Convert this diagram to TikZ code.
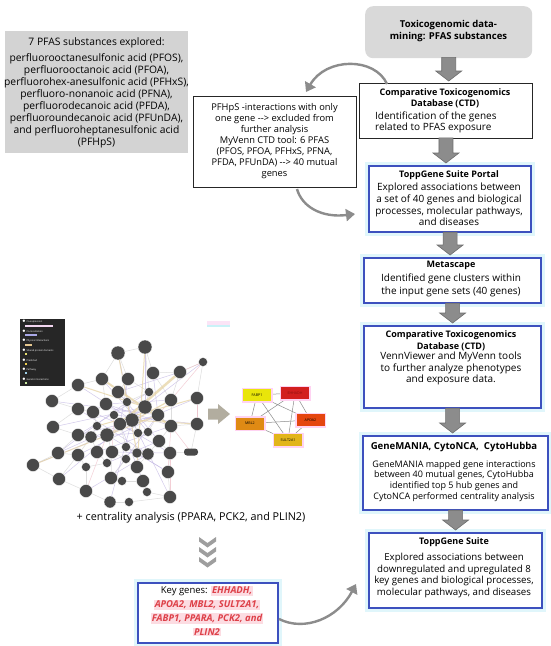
\documentclass[tikz,border=0pt]{standalone}
\usepackage{fontspec}
\setmainfont{Open Sans}
\usetikzlibrary{arrows.meta,calc}
\definecolor{boxgray}{HTML}{D3D3D3}
\definecolor{toxgray}{HTML}{D9D9D9}
\definecolor{bluebd}{HTML}{3D50BE}
\definecolor{glow}{HTML}{E0F6FB}
\definecolor{arrgray}{HTML}{8C8C8C}
\definecolor{arredge}{HTML}{6E6E6E}
\definecolor{nodegray}{HTML}{494949}
\definecolor{keyred}{HTML}{DD4048}
\definecolor{keypink}{HTML}{FCDCE2}
\definecolor{legdark}{HTML}{262626}
\definecolor{lav}{HTML}{C3B8E4}
\definecolor{beige}{HTML}{E6D3A4}
\definecolor{edgegray}{HTML}{D2D2D2}
\definecolor{edgepink}{HTML}{F0BEC8}
\definecolor{halo}{HTML}{FFD3F2}
\definecolor{netarrow}{HTML}{B2AD9F}
\definecolor{hubyellow}{HTML}{E9E50A}
\definecolor{hubred}{HTML}{D21F1F}
\definecolor{hubredtxt}{HTML}{8A1010}
\definecolor{huborangered}{HTML}{E5460F}
\definecolor{huborange}{HTML}{DF8A14}
\definecolor{hubgold}{HTML}{E2B51A}
\definecolor{artpink}{HTML}{FBE4F6}
\definecolor{artcyan}{HTML}{C9F2F7}
\newcommand\downblock[2]{%
  \filldraw[blockarrow] let \p1=(#1), \p2=(#2) in
  (\x1-7pt,\y1+1pt) -- (\x1+7pt,\y1+1pt) -- (\x1+7pt,\y2+12pt) -- (\x1+13pt,\y2+12pt)
  -- (\x1,\y2+2pt) -- (\x1-13pt,\y2+12pt) -- (\x1-7pt,\y2+12pt) -- cycle;}
\newcommand\keyhl[1]{{\setlength{\fboxsep}{1pt}\colorbox{keypink}{\textcolor{keyred}{\bfseries\itshape #1}}}}
\begin{document}
\begin{tikzpicture}[x=1pt,y=-1pt,
  graybox/.style={fill=boxgray, draw=none, inner sep=0pt, anchor=north west},
  blackbox/.style={draw=black!85, line width=0.9pt, fill=white, inner sep=0pt, anchor=north west},
  bluebox/.style={draw=bluebd, line width=2.2pt, fill=white, inner sep=0pt, anchor=north west,
     preaction={draw=glow, line width=8pt}},
  txt/.style={inner sep=0pt, align=center},
  ttl/.style={inner sep=0pt, align=center, font=\fontsize{9}{11.5}\selectfont\bfseries},
  body/.style={inner sep=0pt, align=center, font=\fontsize{10}{11.7}\selectfont},
  blockarrow/.style={fill=arrgray, draw=arredge, line width=0.6pt},
  curvearrow/.style={draw=arrgray, line width=2.4pt, -{Triangle[length=9pt,width=12pt]}},
  netnode/.style={circle, fill=nodegray, draw=white, line width=0.3pt, inner sep=0pt},
  netedge/.style={line width=0.5pt, opacity=0.75},
  hubnode/.style={rectangle, inner sep=0pt, minimum width=28, minimum height=12,
     font=\fontsize{3.6}{4}\selectfont, preaction={draw=halo, line width=3pt}},
  chev/.style={fill=black!38}
]
\useasboundingbox[fill=white] (0,0) rectangle (550,646);

% ---------- left gray box ----------
\node[graybox, minimum width=183, minimum height=122] (pfasbox) at (5,31) {};
\node[txt, font=\fontsize{10.3}{12}\selectfont] (pfastxt) at (96.5,93)
 {7 PFAS substances explored:\\[4pt]
  perfluorooctanesulfonic acid (PFOS),\\
  perfluorooctanoic acid (PFOA),\\
  perfluorohex-anesulfonic acid (PFHxS),\\
  perfluoro-nonanoic acid (PFNA),\\
  perfluorodecanoic acid (PFDA),\\
  perfluoroundecanoic acid (PFUnDA),\\
  and perfluoroheptanesulfonic acid\\
  (PFHpS)};

% ---------- right column ----------
\node[graybox, fill=toxgray, rounded corners=8pt, minimum width=167, minimum height=52] (tox) at (365,6) {};
\node[ttl, font=\fontsize{9.5}{12}\selectfont\bfseries] (toxt) at (448.5,31) {Toxicogenomic data-\\mining: PFAS substances};

\node[blackbox, minimum width=173, minimum height=55] (ctd1) at (359,83) {};
\node[ttl] (ctd1t) at (445,98.5) {Comparative Toxicogenomics\\Database (CTD)};
\node[body, align=left, anchor=west] (ctd1b) at (375,122.5) {Identification of the genes\\related to PFAS exposure};

\node[bluebox, minimum width=162, minimum height=66] (portal) at (368,165) {};
\node[ttl] (portalt) at (449,175) {ToppGene Suite Portal};
\node[body] (portalb) at (449,204.5) {Explored associations between\\a set of 40 genes and biological\\processes, molecular pathways,\\and diseases};

\node[bluebox, minimum width=177, minimum height=45] (meta) at (363,257) {};
\node[ttl] (metat) at (451,265) {Metascape};
\node[body, font=\fontsize{10}{13}\selectfont] (metab) at (451,285) {Identified gene clusters within\\the input gene sets (40 genes)};

\node[bluebox, minimum width=177, minimum height=82] (ctd2) at (363,325) {};
\node[ttl] (ctd2t) at (451,341) {Comparative Toxicogenomics\\Database (CTD)};
\node[body] (ctd2b) at (451,368.5) {VennViewer and MyVenn tools\\to further analyze phenotypes\\and exposure data.};

\node[bluebox, minimum width=185, minimum height=74] (gm) at (362,435) {};
\node[ttl, font=\fontsize{9.6}{12}\selectfont\bfseries] (gmt) at (454,447) {GeneMANIA, CytoNCA,\ \ CytoHubba};
\node[body, font=\fontsize{9}{10.7}\selectfont] (gmb) at (454,481) {GeneMANIA mapped gene interactions\\between 40 mutual genes, CytoHubba\\identified top 5 hub genes and\\CytoNCA performed centrality analysis};

\node[bluebox, minimum width=173, minimum height=75] (ts) at (368,532) {};
\node[ttl] (tst) at (454,542) {ToppGene Suite};
\node[body, font=\fontsize{9.7}{11.7}\selectfont] (tsb) at (454,575.5) {Explored associations between\\downregulated and upregulated 8\\key genes and biological processes,\\molecular pathways, and diseases};

\downblock{tox.south}{ctd1.north}
\downblock{ctd1.south}{portal.north}
\downblock{portal.south}{meta.north}
\downblock{meta.south}{ctd2.north}
\downblock{ctd2.south}{gm.north}
\downblock{gm.south}{ts.north}

% ---------- middle box ----------
\node[blackbox, minimum width=163, minimum height=91] (mid) at (193,96) {};
\node[txt, font=\fontsize{9.3}{11}\selectfont] (midt) at (274.5,141)
 {PFHpS -interactions with only\\one gene -{}-> excluded from\\further analysis\\MyVenn CTD tool: 6 PFAS\\(PFOS, PFOA, PFHxS, PFNA,\\PFDA, PFUnDA) -{}-> 40 mutual\\genes};

\coordinate (arcA) at (387,84);
\coordinate (arcB) at (306,92);
\draw[curvearrow] (arcA) .. controls (375,57) and (326,57) .. (arcB);
\coordinate (arcC) at (297,189);
\coordinate (arcD) at (355,214);
\draw[curvearrow] (arcC) .. controls (302,207) and (322,218) .. (arcD);

% ---------- network ----------
\foreach \n/\x/\y/\s in {1/145/347/14,2/118/353/14,3/203/362/9,4/180/372/13,5/153/373/13,6/128/379/13,7/102/379/13,8/78/385/13,9/118/392/13,10/149/392/9,11/197/398/13,12/171/400/13,13/52/401/13,14/127/402/9,15/106/404/13,16/145/407/14,17/78/409/13,18/93/412/13,19/114/415/9,20/158/415/13,21/132/420/14,22/120/424/13,23/53/427/13,24/171/426/13,25/197/424/13,26/97/426/9,27/78/435/13,28/91/437/12,29/107/435/14,30/138/433/9,31/148/432/9,32/159/441/13,33/126/447/9,34/137/453/10,35/148/454/12,36/170/453/13,38/58/453/13,39/78/455/13,40/97/452/13,41/112/452/13,42/126/459/9,43/107/463/9,44/86/467/9,45/137/467/13,46/168/472/13,47/33/465/13,48/59/479/13,49/111/478/13,50/122/481/9,51/143/481/13,52/86/491/13,53/147/492/9,54/170/497/13,55/110/502/12,56/129/502/9}
  \coordinate (p\n) at (\x,\y);
\coordinate (p37) at (191,452);
\foreach \a/\b in {1/16,2/21,5/20,6/22,8/21,13/20,17/35,23/16,27/20,38/21,47/29,48/16,52/35,55/21,54/21,46/29,36/22,11/29,7/31,9/32,15/24,18/30,28/31,39/20,40/24,41/36,43/32,49/20,51/22,3/29,4/9,12/15,25/19,10/27,14/38,33/46}
  \draw[netedge, draw=lav] (p\a) -- (p\b);
\foreach \a/\b in {1/2,1/5,2/6,5/4,4/3,6/9,7/8,8/13,13/17,17/23,23/27,27/38,38/47,47/48,48/52,52/55,55/56,56/54,54/46,46/36,36/37,37/25,25/11,11/3,24/12,12/4,39/44,44/52,49/50,50/51,51/53,53/54,45/51,42/49,43/44,41/42,40/43,33/34,34/35,35/32,32/24,30/31,31/20,19/22,14/10,10/16,16/20,18/26,26/28,28/39,28/40,29/41,21/30,22/33,15/18,9/14,6/10,2/7,1/10,5/12,20/24,24/25,36/32,45/35,41/49,39/48,38/39,17/18,7/15}
  \draw[netedge, draw=edgegray] (p\a) -- (p\b);
\foreach \a/\b in {11/25,3/4,36/54,24/46,29/52,20/3,37/24,19/41}
  \draw[netedge, draw=edgepink] (p\a) -- (p\b);
\foreach \a/\b/\w in {7/24/2,22/4/2.5,16/8/1,29/12/1.2,21/25/1,26/11/1,45/1/1,34/2/1,20/47/1}
  \draw[netedge, draw=beige, line width=\w pt] (p\a) -- (p\b);
\foreach \n/\x/\y/\s in {1/145/347/14,2/118/353/14,3/203/362/9,4/180/372/13,5/153/373/13,6/128/379/13,7/102/379/13,8/78/385/13,9/118/392/13,10/149/392/9,11/197/398/13,12/171/400/13,13/52/401/13,14/127/402/9,15/106/404/13,16/145/407/14,17/78/409/13,18/93/412/13,19/114/415/9,20/158/415/13,21/132/420/14,22/120/424/13,23/53/427/13,24/171/426/13,25/197/424/13,26/97/426/9,27/78/435/13,28/91/437/12,29/107/435/14,30/138/433/9,31/148/432/9,32/159/441/13,33/126/447/9,34/137/453/10,35/148/454/12,36/170/453/13,38/58/453/13,39/78/455/13,40/97/452/13,41/112/452/13,42/126/459/9,43/107/463/9,44/86/467/9,45/137/467/13,46/168/472/13,47/33/465/13,48/59/479/13,49/111/478/13,50/122/481/9,51/143/481/13,52/86/491/13,53/147/492/9,54/170/497/13,55/110/502/12,56/129/502/9}
  \node[netnode, minimum size=\s] (n\n) at (p\n) {};
\node[rectangle, rounded corners=3pt, fill=nodegray, inner sep=0pt, minimum width=14, minimum height=7] (n37) at (p37) {};

% legend
\node[fill=legdark, inner sep=0pt, minimum width=45, minimum height=67, anchor=north west] (legend) at (20,319) {};
\foreach \i/\t/\c/\l in {0/Co-expression/F2D6F0/28,1/Co-localization/A9A8E6/12,2/Physical Interactions/E8C98F/7,3/Shared protein domains/E8E070/2,4/Predicted/F0D050/2,5/Pathway/9FD0E8/2,6/Genetic interactions/C8E8A0/1.5}{
  \definecolor{lgc}{HTML}{\c}
  \node[anchor=west, inner sep=0pt, text=white, font=\fontsize{2.4}{2.6}\selectfont] (lg\i) at (22,{322+9.5*\i}) {$\bullet$ \t};
  \fill[lgc] (25,{324.5+9.5*\i}) rectangle ++(\l,2);
}

% small artifact
\fill[artpink] (207,321) rectangle (230,325);
\fill[artcyan] (207,325) rectangle (230,327);

% network arrow
\fill[netarrow] (208,408.5) -- (218,408.5) -- (218,404) -- (230,414) -- (218,424) -- (218,419.5) -- (208,419.5) -- cycle;

% hub genes
\coordinate (hf) at (257,395);
\coordinate (he) at (295,393);
\coordinate (ha) at (310.5,420);
\coordinate (hm) at (250,423.5);
\coordinate (hs) at (288,440);
\foreach \a/\b in {hf/he,hf/hm,hf/ha,hf/hs,he/hm,he/hs,he/ha,hm/ha,hm/hs,ha/hs}
  \draw[draw=black!45, line width=0.5pt] (\a) -- (\b);
\node[hubnode, fill=hubyellow] (fabp) at (hf) {FABP1};
\node[hubnode, fill=hubred, text=hubredtxt] (ehh) at (he) {EHHADH};
\node[hubnode, fill=huborangered] (apoa) at (ha) {APOA2};
\node[hubnode, fill=huborange] (mbl) at (hm) {MBL2};
\node[hubnode, fill=hubgold] (sult) at (hs) {SULT2A1};

% centrality text
\node[txt, font=\fontsize{10.8}{12}\selectfont] (cent) at (191,518) {+ centrality analysis (PPARA, PCK2, and PLIN2)};

% chevrons
\foreach \y in {537,547,557}
  \fill[chev] (199,\y) -- (207.5,\y+6) -- (216,\y) -- (216,\y+4.5) -- (207.5,\y+10.5) -- (199,\y+4.5) -- cycle;

% key genes
\node[bluebox, minimum width=140, minimum height=60] (key) at (137,582) {};
\node[txt, font=\fontsize{9.5}{14}\selectfont] (keyt) at (207,611)
 {Key genes: \keyhl{EHHADH,}\\\keyhl{APOA2, MBL2, SULT2A1,}\\\keyhl{FABP1, PPARA, PCK2, and}\\\keyhl{PLIN2}};
\coordinate (arcE) at (279,619);
\coordinate (arcF) at (356,584);
\draw[curvearrow] (arcE) .. controls (305,632) and (338,618) .. (arcF);
\end{tikzpicture}
\end{document}
